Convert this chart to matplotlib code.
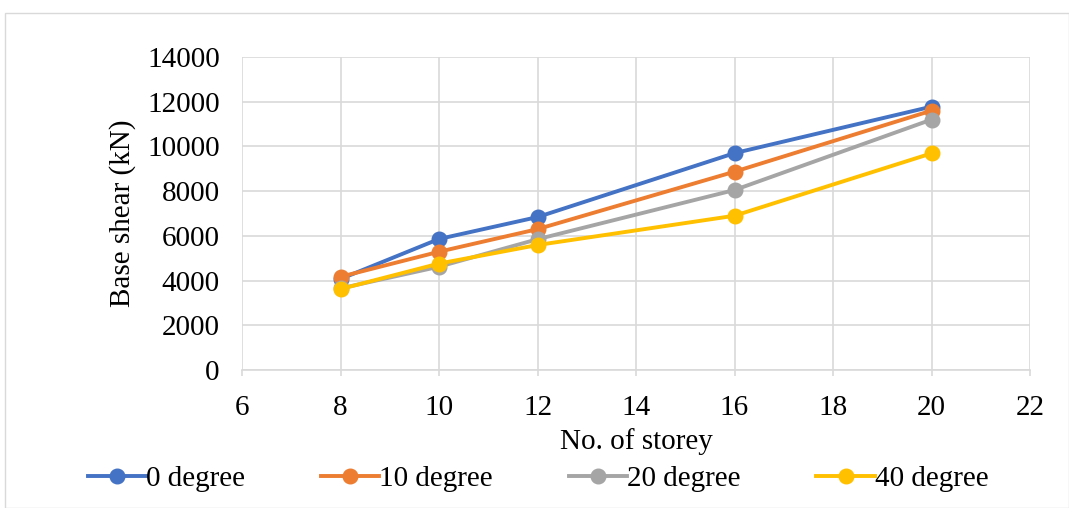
import matplotlib
matplotlib.use("Agg")
import matplotlib.pyplot as plt
from matplotlib.patches import Rectangle

storeys = [8, 10, 12, 16, 20]
deg0 = [4070, 5860, 6840, 9700, 11780]
deg10 = [4170, 5290, 6300, 8870, 11600]
deg20 = [3650, 4620, 5850, 8050, 11200]
deg40 = [3620, 4760, 5590, 6900, 9690]
labels = ["0 degree", "10 degree", "20 degree", "40 degree"]
colors = ["#4472C4", "#ED7D31", "#A5A5A5", "#FFC000"]

plt.rcParams['font.family'] = ['Liberation Serif', 'DejaVu Serif']

fig = plt.figure(figsize=(10.69, 5.08), dpi=100)
fig.patches.append(Rectangle((5/1069, 0), 1 - 5/1069, 1 - 13/508, transform=fig.transFigure,
                             fill=False, edgecolor="#D9D9D9", linewidth=1))
ax = fig.add_axes([242/1069, 1 - 370/508, (1030 - 242)/1069, (370 - 57)/508])

for ys, lab, c in zip([deg0, deg10, deg20, deg40], labels, colors):
    ax.plot(storeys, ys, color=c, lw=2.8, marker='o', markersize=10.5, label=lab)

ax.set_xlim(6, 22)
ax.set_ylim(0, 14000)
ax.set_xticks(range(6, 23, 2))
ax.set_yticks(range(0, 14001, 2000))
ax.grid(True, color="#D9D9D9", lw=1.2)
ax.set_axisbelow(True)
for s in ["top", "right", "left"]:
    ax.spines[s].set_visible(False)
ax.spines["bottom"].set_color("#D9D9D9")
ax.spines["bottom"].set_linewidth(1.2)
ax.tick_params(labelsize=21, labelcolor="black")
ax.tick_params(axis='y', length=0, pad=16)
ax.tick_params(axis='x', length=4, width=1.2, color="#D9D9D9", direction="out", pad=14)
ax.set_xlabel("No. of storey", fontsize=21, labelpad=5)
ax.set_ylabel("Base shear (kN)", fontsize=21, labelpad=8)

ax.legend(loc="center", bbox_to_anchor=(538/1069, 1 - 479/508), bbox_transform=fig.transFigure,
          ncol=4, frameon=False, fontsize=21, handlelength=2.0, handletextpad=0.0,
          columnspacing=2.6)

fig.savefig("out.png", dpi=100)
